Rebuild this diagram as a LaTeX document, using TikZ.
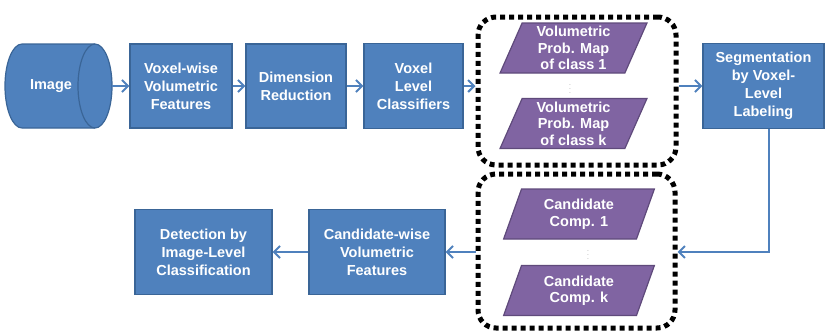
\documentclass[tikz,border=0pt]{standalone}
\usepackage{fontspec}
\setmainfont{Liberation Sans}
\usetikzlibrary{positioning, arrows.meta, shapes.geometric}

\definecolor{boxblue}{HTML}{4F81BD}
\definecolor{boxline}{HTML}{3A6597}
\definecolor{mappurple}{HTML}{8064A2}
\definecolor{mapline}{HTML}{5F4A7B}

\begin{document}
\begin{tikzpicture}[x=1pt, y=-1pt,
        every node/.style={font=\fontsize{14.5}{18}\selectfont\bfseries, text=white, align=center},
        stage/.style={rectangle, draw=boxline, fill=boxblue, line width=1.2pt, inner sep=1pt},
        probmap/.style={trapezium, trapezium left angle=70, trapezium right angle=110,
            trapezium stretches=true, draw=mapline, fill=mappurple, line width=1.2pt,
            minimum width=147pt, minimum height=50pt, inner sep=0pt,
            font=\fontsize{14.5}{16.5}\selectfont\bfseries},
        group/.style={rectangle, draw=black, line width=5pt, dash pattern=on 5pt off 4pt,
            rounded corners=18pt},
        flow/.style={draw=boxblue, line width=2pt, -{Straight Barb[length=6pt,width=12pt,line width=2pt]}}]

        \useasboundingbox (0,0) rectangle (825,333);

        % top row
        % image volume drawn as a lying cylinder
        \draw[draw=boxline, fill=boxblue, line width=1.2pt] (22,44) -- (95,44)
            arc[start angle=-90, end angle=90, x radius=17, y radius=42] -- (22,128)
            arc[start angle=90, end angle=270, x radius=17, y radius=42] -- cycle;
        \draw[draw=boxline, line width=1.2pt] (95,128) arc[start angle=90, end angle=270, x radius=17, y radius=42];
        \node (img) at (51,86) {Image};
        \coordinate (imgend) at (112,86);

        \node[stage, minimum width=102pt, minimum height=84pt] (vfeat) at (181,86) {Voxel-wise\\Volumetric\\Features};
        \node[stage, minimum width=100pt, minimum height=84pt] (dimred) at (296,86) {Dimension\\Reduction};
        \node[stage, minimum width=99pt, minimum height=85pt] (vclass) at (413.5,86) {Voxel\\Level\\Classifiers};

        \node[group, minimum width=198pt, minimum height=148pt] (grp1) at (577,91) {};
        \node[probmap] (map1) at (573.5,48) {Volumetric\\Prob. Map\\of class 1};
        \node[probmap] (mapk) at (573.5,123.5) {Volumetric\\Prob. Map\\of class k};
        \node[text=black!70, font=\fontsize{5}{5}\selectfont, inner sep=0pt] (dots1) at (570,86) {$\vdots$};

        \node[stage, minimum width=121pt, minimum height=85pt] (seg) at (763.5,86) {Segmentation\\by Voxel-\\Level\\Labeling};

        % bottom row
        \node[group, minimum width=197pt, minimum height=154pt] (grp2) at (576.5,251) {};
        \node[probmap, minimum width=152pt] (comp1) at (579,214) {Candidate\\Comp. 1};
        \node[probmap, minimum width=152pt] (compk) at (579,290.5) {Candidate\\Comp. k};
        \node[text=black!70, font=\fontsize{5}{5}\selectfont, inner sep=0pt] (dots2) at (588,252) {$\vdots$};

        \node[stage, minimum width=136pt, minimum height=85pt] (cfeat) at (377,252) {Candidate-wise\\Volumetric\\Features};
        \node[stage, minimum width=137pt, minimum height=85pt] (detect) at (203.5,252) {Detection by\\Image-Level\\Classification};

        % connectors
        \draw[flow] (imgend) -- (vfeat);
        \draw[flow] (vfeat) -- (dimred);
        \draw[flow] (dimred) -- (vclass);
        \draw[flow] (vclass) -- (vclass -| grp1.west);
        \draw[flow] (grp1.east |- seg) -- (seg);
        \draw[flow] ([xshift=5pt]seg.south) |- (grp2.east |- cfeat);
        \draw[flow] (grp2.west |- cfeat) -- (cfeat);
        \draw[flow] (cfeat) -- (detect);

    \end{tikzpicture}
\end{document}
